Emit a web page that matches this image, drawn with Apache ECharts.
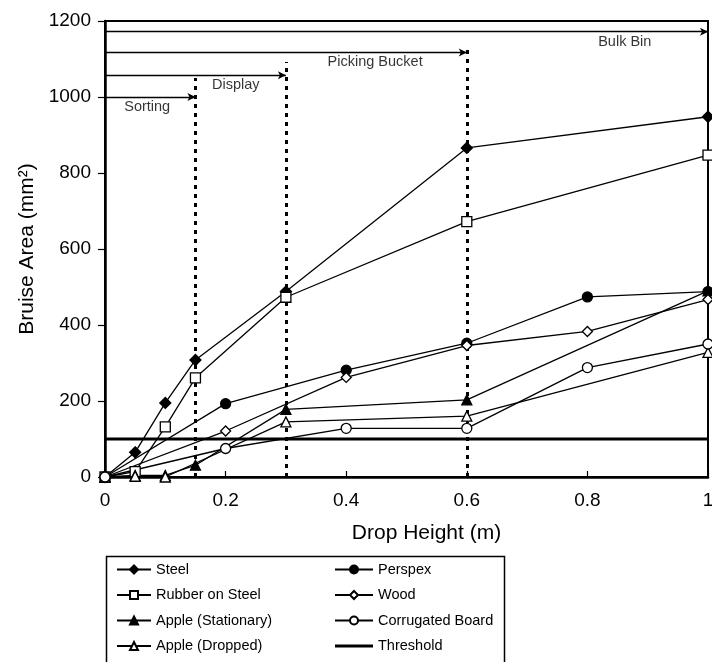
<!DOCTYPE html>
<html>
<head>
<meta charset="utf-8">
<script src="https://cdn.jsdelivr.net/npm/echarts@6/dist/echarts.min.js"></script>
<style>html,body{margin:0;padding:0;background:#fff}#c{width:712px;height:662px}</style>
</head>
<body>
<div id="c"></div>
<script>
// ---- data ----
const xTicks = [0, 0.2, 0.4, 0.6, 0.8, 1];
const yTicks = [0, 200, 400, 600, 800, 1000, 1200];

const steelX = [0, 0.05, 0.1, 0.15, 0.3, 0.6, 1.0];
const steelY = [0, 65, 195, 308, 488, 866, 948];
const rubberX = [0, 0.05, 0.1, 0.15, 0.3, 0.6, 1.0];
const rubberY = [0, 14, 132, 261, 473, 672, 847];
const appleStatX = [0, 0.05, 0.1, 0.15, 0.3, 0.6, 1.0];
const appleStatY = [0, 4, 4, 31, 178, 203, 490];
const appleDropX = [0, 0.05, 0.1, 0.3, 0.6, 1.0];
const appleDropY = [0, 2, 0, 145, 160, 328];
const perspexX = [0, 0.2, 0.4, 0.6, 0.8, 1.0];
const perspexY = [0, 193, 281, 352, 474, 488];
const woodX = [0, 0.2, 0.4, 0.6, 0.8, 1.0];
const woodY = [0, 121, 262, 346, 383, 467];
const corrX = [0, 0.2, 0.4, 0.6, 0.8, 1.0];
const corrY = [0, 75, 128, 128, 288, 350];
const thresholdX = [0, 1];
const thresholdY = [100, 100];

const zoneNames = ['Sorting', 'Display', 'Picking Bucket', 'Bulk Bin'];
const zoneEndX = [0.15, 0.3, 0.6, 1.0];
const zoneArrowY = [1000, 1057, 1117, 1172];
const zoneLabelX = [0.07, 0.217, 0.448, 0.862];
const zoneLabelY = [974, 1031, 1091, 1146];
const dividerX = [0.15, 0.3, 0.6];
const dividerTop = [1050, 1092, 1132];

const legendCol1 = ['Steel', 'Rubber on Steel', 'Apple (Stationary)', 'Apple (Dropped)'];
const legendCol2 = ['Perspex', 'Wood', 'Corrugated Board', 'Threshold'];

// ---- chart ----
const FONT = '"Liberation Sans", Arial, Helvetica, sans-serif';
const pts = (xs, ys) => xs.map((x, i) => [x, ys[i]]);

function lineSeries(name, xs, ys, symbol, filled, size) {
  return {
    name, type: 'line', data: pts(xs, ys),
    symbol, symbolSize: size, showSymbol: true,
    lineStyle: { color: '#000', width: 1.3 },
    itemStyle: { color: filled ? '#000' : '#fff', borderColor: '#000', borderWidth: 1.3 },
    z: 5, clip: false
  };
}

const series = [
  lineSeries('Steel', steelX, steelY, 'diamond', true, 11),
  lineSeries('Rubber on Steel', rubberX, rubberY, 'rect', false, 10),
  lineSeries('Apple (Stationary)', appleStatX, appleStatY, 'triangle', true, 10),
  lineSeries('Apple (Dropped)', appleDropX, appleDropY, 'triangle', false, 10),
  lineSeries('Perspex', perspexX, perspexY, 'circle', true, 10),
  lineSeries('Wood', woodX, woodY, 'diamond', false, 10),
  lineSeries('Corrugated Board', corrX, corrY, 'circle', false, 10),
  {
    name: 'Threshold', type: 'line', data: pts(thresholdX, thresholdY),
    symbol: 'none', lineStyle: { color: '#000', width: 3.2 }, itemStyle: { color: '#000' }, z: 4
  },
  {
    name: 'zones', type: 'line', data: [], silent: true,
    markLine: {
      silent: true, animation: false, label: { show: false },
      data: zoneEndX.map((xe, i) => [
        { coord: [0, zoneArrowY[i]], symbol: 'none', lineStyle: { color: '#000', width: 1.3, type: 'solid' } },
        { coord: [xe, zoneArrowY[i]], symbol: 'arrow', symbolSize: [6, 8] }
      ]).concat(dividerX.map((xv, i) => [
        { coord: [xv, 0], symbol: 'none', lineStyle: { color: '#000', width: 3, type: [4, 5] } },
        { coord: [xv, dividerTop[i]], symbol: 'none' }
      ]))
    }
  },
  {
    name: 'zoneLabels', type: 'scatter', symbolSize: 0, silent: true,
    data: zoneNames.map((n, i) => ({ name: n, value: [zoneLabelX[i], zoneLabelY[i]] })),
    label: { show: true, position: 'inside', formatter: p => p.name, color: '#000', fontSize: 14.5, fontFamily: FONT }
  }
];

const legendBase = {
  orient: 'vertical', top: 562, height: 120, padding: 0, itemHeight: 10, itemGap: 10.5,
  textStyle: { fontSize: 14.5, fontFamily: FONT, color: '#000' }, selectedMode: false
};

const chart = echarts.init(document.getElementById('c'), null, { renderer: 'canvas' });
chart.setOption({
  animation: false,
  backgroundColor: '#fff',
  grid: { left: 105, right: 4, top: 21, bottom: 185, outerBoundsMode: 'none', containLabel: false,
    show: true, borderColor: '#000', borderWidth: 2, backgroundColor: 'transparent' },
  xAxis: {
    type: 'value', min: xTicks[0], max: xTicks[xTicks.length - 1], interval: xTicks[1] - xTicks[0],
    name: 'Drop Height (m)', nameLocation: 'middle', nameGap: 46,
    nameTextStyle: { fontSize: 21, fontFamily: FONT, color: '#000', padding: [0, 0, 0, 40] },
    axisLine: { lineStyle: { color: '#000', width: 2.5 } },
    axisTick: { inside: true, length: 6, lineStyle: { color: '#000', width: 1.2 } },
    axisLabel: { fontSize: 19, fontFamily: FONT, color: '#000', margin: 14, formatter: v => String(v) },
    splitLine: { show: false }
  },
  yAxis: {
    type: 'value', min: yTicks[0], max: yTicks[yTicks.length - 1], interval: yTicks[1] - yTicks[0],
    name: 'Bruise Area (mm²)', nameLocation: 'middle', nameGap: 66,
    nameTextStyle: { fontSize: 21, fontFamily: FONT, color: '#000' },
    axisLine: { lineStyle: { color: '#000', width: 2.5 } },
    axisTick: { inside: false, length: 7, lineStyle: { color: '#000', width: 1.2 } },
    axisLabel: { fontSize: 19, fontFamily: FONT, color: '#000', margin: 14, formatter: v => String(v) },
    splitLine: { show: false }
  },
  legend: [
    Object.assign({}, legendBase, { left: 116, itemWidth: 34, data: legendCol1 }),
    Object.assign({}, legendBase, { left: 334, itemWidth: 38,
      data: legendCol2.map(n => n === 'Threshold'
        ? { name: n, icon: 'path://M0,0L40,0L40,3.2L0,3.2Z' }
        : { name: n }) })
  ],
  graphic: [
    { type: 'rect', left: 104, top: 554, shape: { x: 0, y: 0, width: 398, height: 140 },
      style: { fill: 'none', stroke: '#000', lineWidth: 1.5 }, silent: true }
  ],
  series
});
</script>
</body>
</html>
